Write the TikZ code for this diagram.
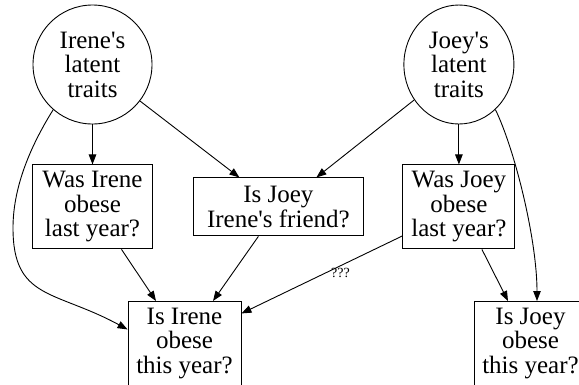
\documentclass[tikz,border=0pt]{standalone}
\usepackage{fontspec}
\setmainfont{Liberation Serif}
\newfontfamily\gvfont{Liberation Serif}
\usetikzlibrary{arrows.meta, positioning, shapes.geometric}
\tikzset{
  trait/.style={draw, align=center, inner sep=0pt, font=\gvfont\fontsize{25}{24.5}\selectfont},
  query/.style={draw, rectangle, align=center, inner sep=2pt, minimum height=84pt, font=\gvfont\fontsize{25}{24.5}\selectfont},
  guess/.style={font=\gvfont\fontsize{14}{16}\selectfont, inner sep=2pt}
}

\begin{document}
\begin{tikzpicture}[x=1pt, y=-1pt, >={Triangle[length=10pt, width=7.5pt]}, line width=0.9pt, node distance=40pt]
\useasboundingbox (0,0) rectangle (579,384);
\clip (0,0) rectangle (579,384);
\node[trait, circle, minimum size=119pt] (irene) at (92.5,64.5) {Irene\textquotesingle s\\latent\\traits};
\node[trait, ellipse, minimum width=110pt, minimum height=119pt, right=251pt of irene] (joey) {Joey\textquotesingle s\\latent\\traits};
\node[query, minimum width=120pt, below=of irene] (wasI) {Was Irene\\obese\\last year?};
\node[query, minimum width=170pt, minimum height=58pt, right=of wasI] (friend) {Is Joey\\Irene\textquotesingle s friend?};
\node[query, minimum width=112pt, below=of joey] (wasJ) {Was Joey\\obese\\last year?};
\node[query, minimum width=113pt, anchor=north] (isI) at (184.5,301) {Is Irene\\obese\\this year?};
\node[query, minimum width=113pt, anchor=north] (isJ) at (530.5,301) {Is Joey\\obese\\this year?};
\draw [->] (irene) -- (wasI);
\draw [->] (irene) -- ([xshift=-39pt]friend.north);
\draw [->] (irene.229) .. controls (28,150) and (13,190) .. (13,228) .. controls (13,300) and (55,290) .. ([yshift=14pt]isI.west);
\draw [->] (joey) -- ([xshift=38pt]friend.north);
\draw [->] (joey) -- (wasJ);
\draw [->] (joey.-51) .. controls (515,150) and (537,240) .. ([xshift=6.5pt]isJ.north);
\draw [->] ([xshift=29pt]wasI.south) -- ([xshift=-28.5pt]isI.north);
\draw [->] ([xshift=-20pt]friend.south) -- ([xshift=28.5pt]isI.north);
\draw [->] ([yshift=-29pt]wasJ.west) -- node [guess, pos=0.385, anchor=north] {???} ([yshift=30pt]isI.east);
\draw [->] ([xshift=23pt]wasJ.south) -- ([xshift=-22.5pt]isJ.north);
\end{tikzpicture}
\end{document}
